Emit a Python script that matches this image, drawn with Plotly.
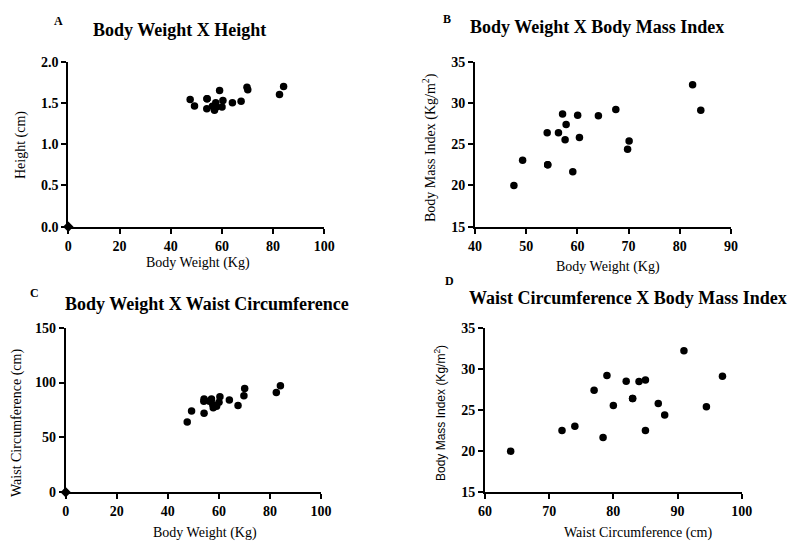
import plotly.graph_objects as go

# ---- data ----
body_weight = [47.6, 49.3, 54.2, 54.1, 54.2, 56.3, 57.1, 57.6, 57.8, 59.1, 60.05, 60.4, 64.1, 67.5, 69.8, 70.1, 82.5, 84.1]
height_m = [1.543, 1.463, 1.552, 1.431, 1.552, 1.460, 1.411, 1.501, 1.452, 1.651, 1.452, 1.530, 1.501, 1.520, 1.691, 1.661, 1.601, 1.700]
bmi = [20.0, 23.04, 22.5, 26.4, 22.5, 26.4, 28.66, 25.55, 27.4, 21.67, 28.5, 25.8, 28.45, 29.2, 24.4, 25.4, 32.2, 29.1]
waist = [64, 74, 72, 83, 85, 83, 85, 80, 77, 78.4, 82, 87, 84, 79, 88, 94.5, 91, 97]
origin_x = [0]
origin_y = [0]

panel_titles = ["Body Weight X Height", "Body Weight X Body Mass Index",
                "Body Weight X Waist Circumference", "Waist Circumference X Body Mass Index"]
panel_letters = ["A", "B", "C", "D"]

W, H = 790, 542
def px(x):
    return x / W
def py(y):
    return 1 - y / H

SERIF = "Liberation Serif, Times New Roman, serif"
SANS = "Liberation Sans, Arial, sans-serif"

fig = go.Figure()

marker = dict(color="black", size=7.5, symbol="circle")
dmark = dict(color="black", size=8, symbol="diamond")

fig.add_trace(go.Scatter(x=body_weight, y=height_m, mode="markers", marker=marker, xaxis="x", yaxis="y", showlegend=False))
fig.add_trace(go.Scatter(x=origin_x, y=origin_y, mode="markers", marker=dmark, xaxis="x", yaxis="y", showlegend=False, cliponaxis=False))
fig.add_trace(go.Scatter(x=body_weight, y=bmi, mode="markers", marker=marker, xaxis="x2", yaxis="y2", showlegend=False))
fig.add_trace(go.Scatter(x=body_weight, y=waist, mode="markers", marker=marker, xaxis="x3", yaxis="y3", showlegend=False))
fig.add_trace(go.Scatter(x=origin_x, y=origin_y, mode="markers", marker=dmark, xaxis="x3", yaxis="y3", showlegend=False, cliponaxis=False))
fig.add_trace(go.Scatter(x=waist, y=bmi, mode="markers", marker=marker, xaxis="x4", yaxis="y4", showlegend=False))

tickfont = dict(family=SERIF, size=14, color="black", weight="bold")
common = dict(showline=True, linecolor="black", linewidth=2, ticks="outside", ticklen=5,
              tickwidth=2, tickcolor="black", showgrid=False, zeroline=False, tickfont=tickfont,
              fixedrange=True, automargin=False)

# domains (pixel measured)
dA = dict(x=[px(68.3), px(324.3)], y=[py(226.7), py(61.7)])
dB = dict(x=[px(475), px(731)], y=[py(226.7), py(61.7)])
dC = dict(x=[px(65.7), px(321)], y=[py(492.3), py(327.7)])
dD = dict(x=[px(485), px(741.7)], y=[py(492.3), py(327.7)])

fig.update_layout(
    template="none",
    width=W, height=H, margin=dict(l=0, r=0, t=0, b=0, pad=0, autoexpand=False),
    paper_bgcolor="white", plot_bgcolor="white",
    xaxis=dict(domain=dA["x"], anchor="y", range=[0, 100], dtick=20, **common),
    yaxis=dict(domain=dA["y"], anchor="x", range=[0, 2], dtick=0.5, tickformat=".1f", **common),
    xaxis2=dict(domain=dB["x"], anchor="y2", range=[40, 90], dtick=10, **common),
    yaxis2=dict(domain=dB["y"], anchor="x2", range=[15, 35], dtick=5, **common),
    xaxis3=dict(domain=dC["x"], anchor="y3", range=[0, 100], dtick=20, **common),
    yaxis3=dict(domain=dC["y"], anchor="x3", range=[0, 150], dtick=50, **common),
    xaxis4=dict(domain=dD["x"], anchor="y4", range=[60, 100], dtick=10, **common),
    yaxis4=dict(domain=dD["y"], anchor="x4", range=[15, 35], dtick=5, **common),
)

ann = []
def text(x, y, t, size, family=SERIF, bold=False, angle=0, color="black"):
    ann.append(dict(x=px(x), y=py(y), xref="paper", yref="paper", text=t, showarrow=False,
                    xanchor="center", yanchor="middle", textangle=angle,
                    font=dict(family=family, size=size, color=color, weight="bold" if bold else "normal")))

# panel titles
text(179, 30, panel_titles[0], 18, bold=True)
text(597, 27, panel_titles[1], 18, bold=True)
text(207, 304, panel_titles[2], 18, bold=True)
text(628, 298, panel_titles[3], 18, bold=True)
# panel letters
text(58, 21, panel_letters[0], 12, bold=True)
text(447, 19, panel_letters[1], 12, bold=True)
text(34, 293, panel_letters[2], 12, bold=True)
text(449, 281, panel_letters[3], 12, bold=True)
# x-axis titles
text(198, 263, "Body Weight (Kg)", 14)
text(608, 267, "Body Weight (Kg)", 14)
text(205, 533, "Body Weight (Kg)", 14)
text(638, 533, "Waist Circumference (cm)", 14)
# y-axis titles
text(21, 145, "Height (cm)", 14, angle=-90)
text(429, 148, "Body Mass Index (Kg/m<sup>2</sup>)", 14, angle=-90)
text(17, 423, "Waist Circumference (cm)", 14, angle=-90)
text(440, 413, "Body Mass Index (Kg/m<sup>2</sup>)", 12, family=SANS, angle=-90)

fig.update_layout(annotations=ann)
fig.write_html("out.html", config={"displayModeBar": False},
               post_script="document.body.style.margin='0';document.body.style.overflow='hidden';")
